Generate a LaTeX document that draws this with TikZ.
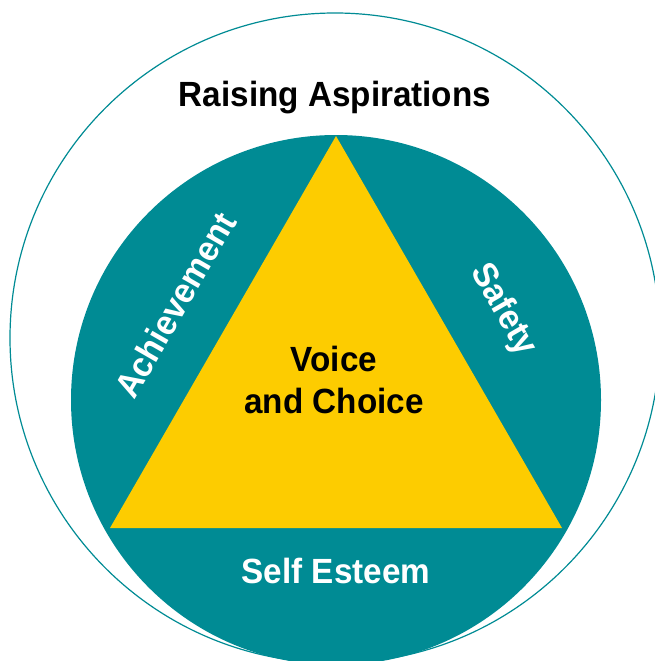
\documentclass[tikz,border=0pt]{standalone}
\usepackage{fontspec}
\setmainfont{Liberation Sans}[FakeStretch=0.95]

\begin{document}
\begin{tikzpicture}[x=1pt,y=-1pt]

    % Couleurs
    \definecolor{bleucanard}{RGB}{0,139,148}
    \definecolor{jaune}{RGB}{253,204,0}

    % Styles
    \tikzset{texte/.style={font=\bfseries\fontsize{35}{41.5}\selectfont, inner sep=0pt}}
    \tikzset{noir/.style={texte, text=black}}
    \tikzset{blanc/.style={texte, text=white}}

    \useasboundingbox (0,0) rectangle (655,661);
    \clip (0,0) rectangle (655,661);

    % Formes
    \draw [bleucanard, line width=1.2pt] (335,338) circle (325pt);
    \fill [bleucanard] (336,400) circle (265pt);
    \fill [jaune] (110,528) -- (336,136) -- (562,528) -- cycle;

    % Noeuds
    \node (aspirations) [noir, anchor=base] at (335,106.5) {Raising Aspirations};
    \node (voix) [noir, align=center] at (334,380) {Voice\\and Choice};
    \node (reussite) [blanc, rotate=60] at (175,305) {Achievement};
    \node (securite) [blanc, rotate=-60] at (503,310) {Safety};
    \node (estime) [blanc, anchor=base] at (336,583) {Self Esteem};

\end{tikzpicture}
\end{document}
